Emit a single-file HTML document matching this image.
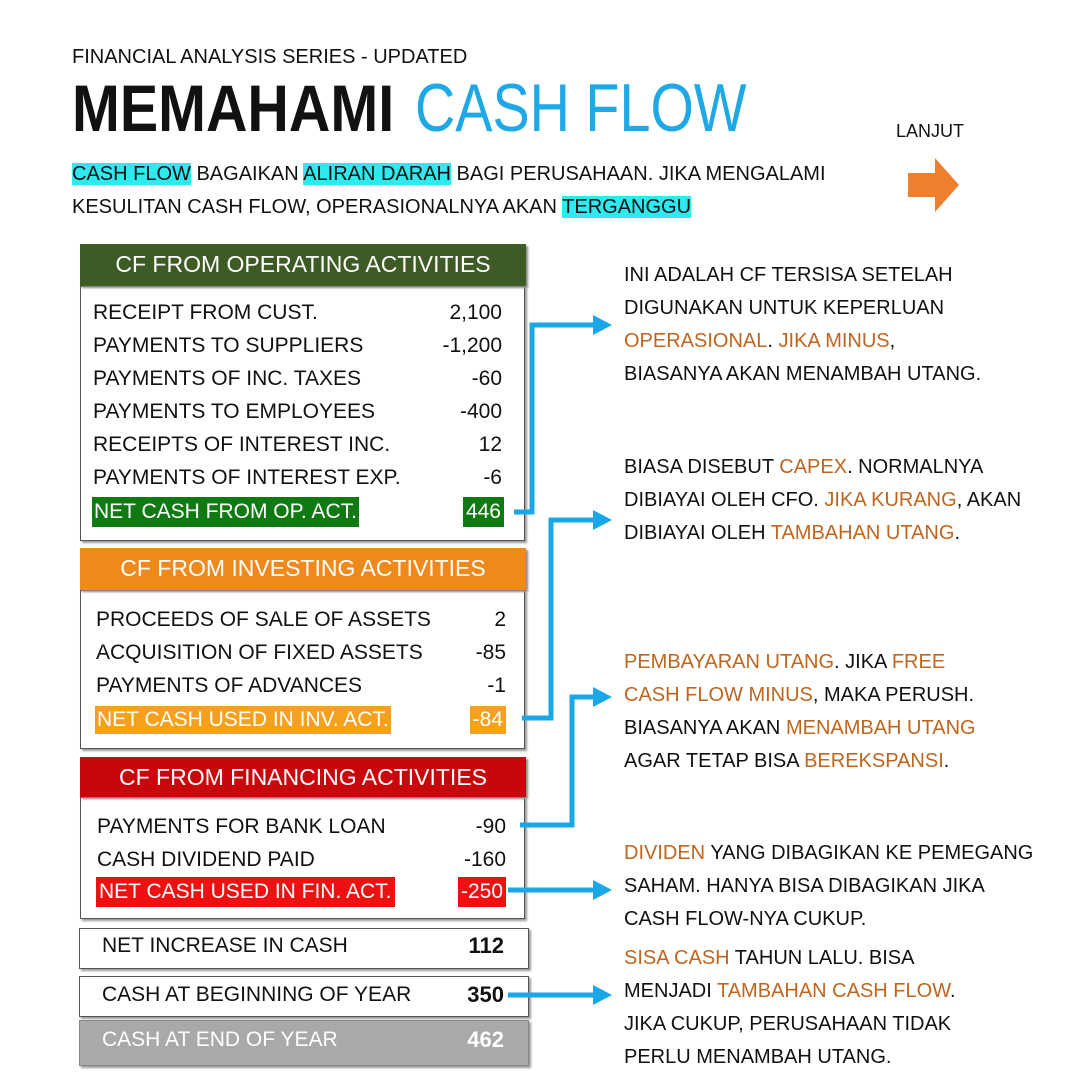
<!DOCTYPE html>
<html><head><meta charset="utf-8">
<style>
body{margin:0;width:1080px;height:1080px;background:#fff;position:relative;overflow:hidden;font-family:"Liberation Sans Narrow","Liberation Sans",sans-serif;color:#111}
.t{position:absolute;white-space:nowrap;font-size:21px;line-height:26px}
.r{text-align:right}
.box{position:absolute;border:1.5px solid #555;box-shadow:2px 2px 2px #999;background:#fff}
.hd{position:absolute;color:#fff;font-size:23px;line-height:40px;text-align:center;box-shadow:2px 2px 2px #888}
.hl{background:#2ee9ee}
.o{color:#c0651e}
</style></head><body>
<div class="t" style="left:72px;top:44px;font-size:20px">FINANCIAL ANALYSIS SERIES - UPDATED</div>
<div class="t" style="left:72px;top:70px;font-size:66px;line-height:76px;font-weight:bold;transform:scaleX(0.87);transform-origin:left">MEMAHAMI</div>
<div class="t" style="left:415px;top:70px;font-size:68px;line-height:76px;color:#1ea8e6;transform:scaleX(0.82);transform-origin:left">CASH FLOW</div>
<div class="t" style="left:896px;top:118px;font-size:18px">LANJUT</div>
<svg style="position:absolute;left:905px;top:155px" width="60" height="62"><polygon points="3,18 30,18 30,3 54,30 30,57 30,42 3,42" fill="#ee7f2d"/></svg>
<div class="t" style="left:72px;top:160px;font-size:20px;line-height:28px"><span class="hl">CASH FLOW</span> BAGAIKAN <span class="hl">ALIRAN DARAH</span> BAGI PERUSAHAAN. JIKA MENGALAMI</div>
<div class="t" style="left:72px;top:193px;font-size:20px;line-height:28px">KESULITAN CASH FLOW, OPERASIONALNYA AKAN <span class="hl">TERGANGGU</span></div>

<div class="box" style="left:80px;top:286px;width:443px;height:253px"></div>
<div class="hd" style="left:80px;top:244px;width:446px;height:42px;background:#3e5b26">CF FROM OPERATING ACTIVITIES</div>

<div class="box" style="left:80px;top:590px;width:443px;height:157px"></div>
<div class="hd" style="left:80px;top:548px;width:446px;height:42px;background:#f0891b">CF FROM INVESTING ACTIVITIES</div>

<div class="box" style="left:80px;top:797px;width:443px;height:120px"></div>
<div class="hd" style="left:80px;top:757px;width:446px;height:40px;background:#c8070c">CF FROM FINANCING ACTIVITIES</div>

<div class="box" style="left:79px;top:928px;width:448px;height:39px"></div>
<div class="box" style="left:79px;top:976px;width:448px;height:39px"></div>
<div class="box" style="left:79px;top:1020px;width:448px;height:44px;background:#a9a9a9;border-color:#888"></div>

<div id="rows"></div>

<svg style="position:absolute;left:0;top:0" width="1080" height="1080">
<g fill="none" stroke="#1aa7e8" stroke-width="5">
<polyline points="514,512 532,512 532,325 595,325"/>
<polyline points="522,718 551,718 551,520 595,520"/>
<polyline points="520,825 572,825 572,697 595,697"/>
<polyline points="508,890 595,890"/>
<polyline points="508,995 595,995"/>
</g>
<g fill="#1aa7e8">
<polygon points="593,315 612,325 593,335"/>
<polygon points="593,510 612,520 593,530"/>
<polygon points="593,687 612,697 593,707"/>
<polygon points="593,880 612,890 593,900"/>
<polygon points="593,985 612,995 593,1005"/>
</g>
</svg>

<div id="notes"></div>

<script>
const opLabels=["RECEIPT FROM CUST.","PAYMENTS TO SUPPLIERS","PAYMENTS OF INC. TAXES","PAYMENTS TO EMPLOYEES","RECEIPTS OF INTEREST INC.","PAYMENTS OF INTEREST EXP."];
const opValues=["2,100","-1,200","-60","-400","12","-6"];
const invLabels=["PROCEEDS OF SALE OF ASSETS","ACQUISITION OF FIXED ASSETS","PAYMENTS OF ADVANCES"];
const invValues=["2","-85","-1"];
const finLabels=["PAYMENTS FOR BANK LOAN","CASH DIVIDEND PAID"];
const finValues=["-90","-160"];
const rowsEl=document.getElementById('rows');
function addText(txt,left,top,right,style,name){
  const d=document.createElement('div');
  d.className='t'+(right?' r':'');
  d.textContent=txt;
  d.style.top=top+'px';
  if(right){d.style.right=(1080-left)+'px';}else{d.style.left=left+'px';}
  if(style)d.setAttribute('style',d.getAttribute('style')+';'+style);
  
  
  rowsEl.appendChild(d);
  return d;
}
function section(labels,values,x,y0,vx,key){
  labels.forEach((l,i)=>{
    addText(l,x,y0+i*33-13,false,'',key+'-label-'+(i+1));
    addText(values[i],vx,y0+i*33-13,true,'',key+'-value-'+(i+1));
  });
}
section(opLabels,opValues,93,313,502,'operating');
addText("NET CASH FROM OP. ACT.",92,497,false,'background:#107a12;color:#fff;padding:0 2px;height:30px;line-height:30px','operating-net-label');
addText("446",504,497,true,'background:#107a12;color:#fff;padding:0 3px;height:30px;line-height:30px','operating-net-value');
section(invLabels,invValues,96,620,506,'investing');
addText("NET CASH USED IN INV. ACT.",95,706,false,'background:#f7a01c;color:#fff;padding:0 2px;height:28px;line-height:28px','investing-net-label');
addText("-84",506,706,true,'background:#f7a01c;color:#fff;padding:0 3px;height:28px;line-height:28px','investing-net-value');
section(finLabels,finValues,97,827,506,'financing');
addText("NET CASH USED IN FIN. ACT.",96,877,false,'background:#ee1111;color:#fff;padding:0 3px;height:30px;line-height:30px','financing-net-label');
addText("-250",506,877,true,'background:#ee1111;color:#fff;padding:0 3px;height:30px;line-height:30px','financing-net-value');
addText("NET INCREASE IN CASH",102,933,false,'','net-increase-label');
addText("112",504,933,true,'font-weight:bold;font-size:22px','net-increase-value');
addText("CASH AT BEGINNING OF YEAR",102,982,false,'','cash-begin-label');
addText("350",504,982,true,'font-weight:bold;font-size:22px','cash-begin-value');
addText("CASH AT END OF YEAR",102,1027,false,'color:#fff','cash-end-label');
addText("462",504,1027,true,'color:#fff;font-weight:bold;font-size:22px','cash-end-value');

const notes=[
 [262,['INI ADALAH CF TERSISA SETELAH','DIGUNAKAN UNTUK KEPERLUAN','<span class="o">OPERASIONAL</span>. <span class="o">JIKA MINUS</span>,','BIASANYA AKAN MENAMBAH UTANG.']],
 [454,['BIASA DISEBUT <span class="o">CAPEX</span>. NORMALNYA','DIBIAYAI OLEH CFO. <span class="o">JIKA KURANG</span>, AKAN','DIBIAYAI OLEH <span class="o">TAMBAHAN UTANG</span>.']],
 [649,['<span class="o">PEMBAYARAN UTANG</span>. JIKA <span class="o">FREE</span>','<span class="o">CASH FLOW MINUS</span>, MAKA PERUSH.','BIASANYA AKAN <span class="o">MENAMBAH UTANG</span>','AGAR TETAP BISA <span class="o">BEREKSPANSI</span>.']],
 [840,['<span class="o">DIVIDEN</span> YANG DIBAGIKAN KE PEMEGANG','SAHAM. HANYA BISA DIBAGIKAN JIKA','CASH FLOW-NYA CUKUP.']],
 [945,['<span class="o">SISA CASH</span> TAHUN LALU. BISA','MENJADI <span class="o">TAMBAHAN CASH FLOW</span>.','JIKA CUKUP, PERUSAHAAN TIDAK','PERLU MENAMBAH UTANG.']]
];
const nEl=document.getElementById('notes');
notes.forEach((n,k)=>{
  n[1].forEach((line,i)=>{
    const d=document.createElement('div');
    d.className='t';
    d.style.left='624px';
    d.style.top=(n[0]+i*33)+'px';
    d.style.fontSize='20px';
    d.innerHTML=line;
    
    
    nEl.appendChild(d);
  });
});
</script>
</body></html>
